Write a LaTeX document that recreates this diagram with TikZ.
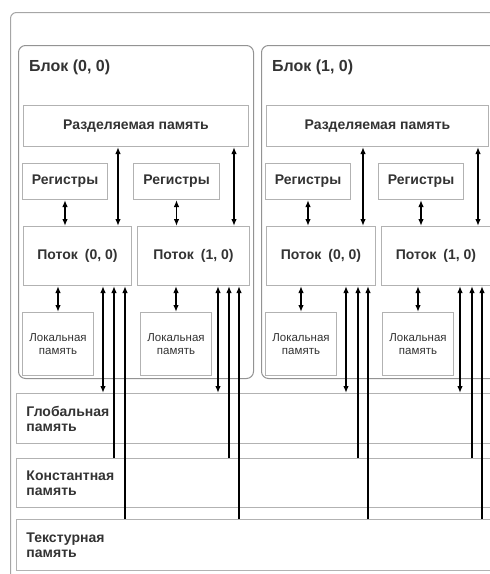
\documentclass[tikz,border=0pt]{standalone}
\usepackage{fontspec}
\setmainfont{Liberation Sans}
\usetikzlibrary{arrows.meta, positioning, calc}
\colorlet{cEdge}{gray!60}
\colorlet{cBlock}{gray!85}
\colorlet{cText}{black!80}
\tikzset{
  cubox/.style={rectangle, draw=cEdge, line width=1pt, fill=white,
                inner sep=0pt, anchor=north west, align=center, text=cText,
                font=\fontsize{14}{15}\selectfont\bfseries},
  cushr/.style={cubox, minimum height=41pt},
  cureg/.style={cubox, minimum width=85pt, minimum height=36pt},
  cuthr/.style={cubox, minimum height=59pt},
  culoc/.style={cubox, minimum width=71pt, minimum height=63pt,
                font=\fontsize{11.5}{13}\selectfont},
  cumem/.style={cubox, minimum width=520pt, minimum height=50pt,
                text width=500pt, align=left, inner xsep=8pt},
  cublock/.style={rectangle, rounded corners=7pt, draw=cBlock, line width=1pt,
                  anchor=north west, inner sep=0pt},
  cuframe/.style={cublock, draw=gray!70, rounded corners=6pt},
  cutitle/.style={anchor=west, inner sep=0pt, text=cText,
                  font=\fontsize{16}{18}\selectfont\bfseries},
  cuarrow/.style={line width=1.4pt, black},
}

\begin{document}
\begin{tikzpicture}[x=1pt, y=-1pt, >={Latex[length=7pt, width=5.5pt]}]
  \useasboundingbox (0,0) rectangle (490,574);
  \clip (0,0) rectangle (490,574);
  % Frame and blocks
  \node[cuframe, minimum width=530pt, minimum height=600pt] (frame) at (10,12) {};
  \node[cublock, minimum width=235pt, minimum height=333pt] (blk0) at (18,45) {};
  \node[cublock, minimum width=260pt, minimum height=333pt] (blk1) at (261,45) {};
  \node[cutitle] (blk0title) at (29,67) {Блок (0, 0)};
  \node[cutitle] (blk1title) at (272,67) {Блок (1, 0)};
  % Shared memory
  \node[cushr, minimum width=225pt] (shr0) at (23,105) {Разделяемая память};
  \node[cushr, minimum width=222pt] (shr1) at (266,105) {Разделяемая память};
  % Registers
  \node[cureg] (reg00) at (22,163) {Регистры};
  \node[cureg, minimum width=86pt] (reg01) at (133,163) {Регистры};
  \node[cureg] (reg10) at (265,163) {Регистры};
  \node[cureg] (reg11) at (378,163) {Регистры};
  % Threads
  \node[cuthr, minimum width=108pt] (thr00) at (23,226) {Поток\enspace(0, 0)};
  \node[cuthr, minimum width=112pt] (thr01) at (137,226) {Поток\enspace(1, 0)};
  \node[cuthr, minimum width=109pt] (thr10) at (266,226) {Поток\enspace(0, 0)};
  \node[cuthr, minimum width=109pt] (thr11) at (381,226) {Поток\enspace(1, 0)};
  % Local memory
  \node[culoc] (loc00) at (22,312) {Локальная\\память};
  \node[culoc] (loc01) at (140,312) {Локальная\\память};
  \node[culoc] (loc10) at (265,312) {Локальная\\память};
  \node[culoc] (loc11) at (382,312) {Локальная\\память};
  % Device memory
  \node[cumem] (gmem) at (16,393) {Глобальная\\память};
  \node[cumem, minimum height=49pt] (cmem) at (16,458) {Константная\\память};
  \node[cumem, minimum height=51pt] (tmem) at (16,519) {Текстурная\\память};

  % Block (0, 0), thread (0, 0)
  \draw[cuarrow, <->] ([xshift=-14pt]thr00.north east |- shr0.south) -- ([xshift=-14pt]thr00.north east);
  \draw[cuarrow, <->] (reg00.south) -- (reg00.south |- thr00.north);
  \draw[cuarrow, <->] (thr00.south -| loc00.north) -- (loc00.north);
  \draw[cuarrow, <->] ([xshift=-29pt]thr00.south east) -- ([xshift=-29pt]thr00.south east |- gmem.north);
  \draw[cuarrow, ->] ([xshift=-18pt]thr00.south east |- cmem.north) -- ([xshift=-18pt]thr00.south east);
  \draw[cuarrow, ->] ([xshift=-7pt]thr00.south east |- tmem.north) -- ([xshift=-7pt]thr00.south east);
  % Block (0, 0), thread (1, 0)
  \draw[cuarrow, <->] ([xshift=-16pt]thr01.north east |- shr0.south) -- ([xshift=-16pt]thr01.north east);
  \draw[cuarrow, <->] (reg01.south) -- (reg01.south |- thr01.north);
  \draw[cuarrow, <->] (thr01.south -| loc01.north) -- (loc01.north);
  \draw[cuarrow, <->] ([xshift=-32pt]thr01.south east) -- ([xshift=-32pt]thr01.south east |- gmem.north);
  \draw[cuarrow, ->] ([xshift=-21pt]thr01.south east |- cmem.north) -- ([xshift=-21pt]thr01.south east);
  \draw[cuarrow, ->] ([xshift=-11pt]thr01.south east |- tmem.north) -- ([xshift=-11pt]thr01.south east);
  % Block (1, 0), thread (0, 0)
  \draw[cuarrow, <->] ([xshift=-13pt]thr10.north east |- shr1.south) -- ([xshift=-13pt]thr10.north east);
  \draw[cuarrow, <->] (reg10.south) -- (reg10.south |- thr10.north);
  \draw[cuarrow, <->] (thr10.south -| loc10.north) -- (loc10.north);
  \draw[cuarrow, <->] ([xshift=-30pt]thr10.south east) -- ([xshift=-30pt]thr10.south east |- gmem.north);
  \draw[cuarrow, ->] ([xshift=-18pt]thr10.south east |- cmem.north) -- ([xshift=-18pt]thr10.south east);
  \draw[cuarrow, ->] ([xshift=-8pt]thr10.south east |- tmem.north) -- ([xshift=-8pt]thr10.south east);
  % Block (1, 0), thread (1, 0)
  \draw[cuarrow, <->] ([xshift=-13pt]thr11.north east |- shr1.south) -- ([xshift=-13pt]thr11.north east);
  \draw[cuarrow, <->] (reg11.south) -- (reg11.south |- thr11.north);
  \draw[cuarrow, <->] (thr11.south -| loc11.north) -- (loc11.north);
  \draw[cuarrow, <->] ([xshift=-31pt]thr11.south east) -- ([xshift=-31pt]thr11.south east |- gmem.north);
  \draw[cuarrow, ->] ([xshift=-19pt]thr11.south east |- cmem.north) -- ([xshift=-19pt]thr11.south east);
  \draw[cuarrow, ->] ([xshift=-9pt]thr11.south east |- tmem.north) -- ([xshift=-9pt]thr11.south east);
\end{tikzpicture}
\end{document}
